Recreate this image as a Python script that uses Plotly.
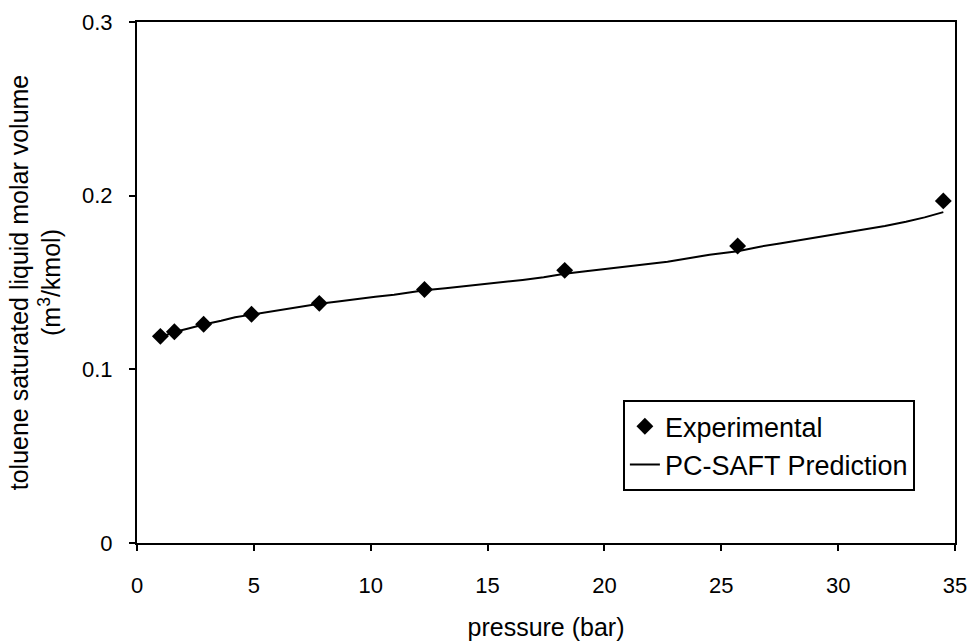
import plotly.graph_objects as go

# Experimental saturated liquid molar volume of toluene
exp_pressure = [1.0, 1.6, 2.85, 4.9, 7.8, 12.3, 18.3, 25.7, 34.5]
exp_volume = [0.119, 0.1216, 0.126, 0.1317, 0.138, 0.146, 0.157, 0.171, 0.197]

# PC-SAFT prediction curve
pred_pressure = [1.0, 1.6, 2.2, 2.85, 3.6, 4.2, 4.9, 5.6, 6.3, 7.0, 7.8, 8.6, 9.4,
                 10.2, 11.0, 11.7, 12.3, 13.2, 14.0, 14.8, 15.6, 16.5, 17.4, 18.3,
                 19.2, 20.0, 20.9, 21.8, 22.7, 23.6, 24.5, 25.7, 26.6, 27.5, 28.4,
                 29.3, 30.2, 31.1, 32.0, 32.9, 33.7, 34.5]
pred_volume = [0.1185, 0.1215, 0.1235, 0.1258, 0.1280, 0.1300, 0.1315, 0.1330,
               0.1345, 0.1360, 0.1378, 0.1390, 0.1405, 0.1418, 0.1430, 0.1443,
               0.1455, 0.1467, 0.1478, 0.1490, 0.1500, 0.1515, 0.1530, 0.1550,
               0.1565, 0.1578, 0.1592, 0.1605, 0.1620, 0.1640, 0.1660, 0.1680,
               0.1705, 0.1725, 0.1745, 0.1765, 0.1785, 0.1805, 0.1825, 0.1850,
               0.1875, 0.1905]

x_ticks = [0, 5, 10, 15, 20, 25, 30, 35]
y_ticks = [0, 0.1, 0.2, 0.3]
y_tick_labels = ["0", "0.1", "0.2", "0.3"]

font_family = "Liberation Sans"

fig = go.Figure()
fig.add_trace(go.Scatter(
    x=exp_pressure, y=exp_volume, mode="markers", name="Experimental",
    marker=dict(symbol="diamond", size=13, color="black"),
))
fig.add_trace(go.Scatter(
    x=pred_pressure, y=pred_volume, mode="lines", name="PC-SAFT Prediction",
    line=dict(color="black", width=2),
))

fig.update_layout(
    width=974, height=641,
    margin=dict(l=137, r=19, t=22, b=98),
    paper_bgcolor="white", plot_bgcolor="white",
    font=dict(family=font_family, size=22, color="black"),
    showlegend=True,
    legend=dict(
        x=0.594, y=0.274, xanchor="left", yanchor="top",
        bgcolor="white", bordercolor="black", borderwidth=2,
        font=dict(family=font_family, size=27, color="black"),
        tracegroupgap=0,
    ),
    xaxis=dict(
        range=[0, 35], tickvals=x_ticks, showgrid=False, zeroline=False,
        showline=True, linecolor="black", linewidth=2, mirror=True,
        ticks="outside", ticklen=6, tickwidth=2, tickcolor="black",
        ticklabelstandoff=16, automargin=False,
        tickfont=dict(family=font_family, size=22, color="black"),
        title=dict(text="pressure (bar)",
                   font=dict(family=font_family, size=25, color="black"),
                   standoff=21),
    ),
    yaxis=dict(
        range=[0, 0.3], tickvals=y_ticks, ticktext=y_tick_labels,
        showgrid=False, zeroline=False,
        showline=True, linecolor="black", linewidth=2, mirror=True,
        ticks="outside", ticklen=6, tickwidth=2, tickcolor="black",
        ticklabelstandoff=12, automargin=False,
        tickfont=dict(family=font_family, size=22, color="black"),
        title=dict(text="toluene saturated liquid molar volume<br>(m<sup>3</sup>/kmol)",
                   font=dict(family=font_family, size=25, color="black"),
                   standoff=14),
    ),
)

fig.write_html("out.html")
